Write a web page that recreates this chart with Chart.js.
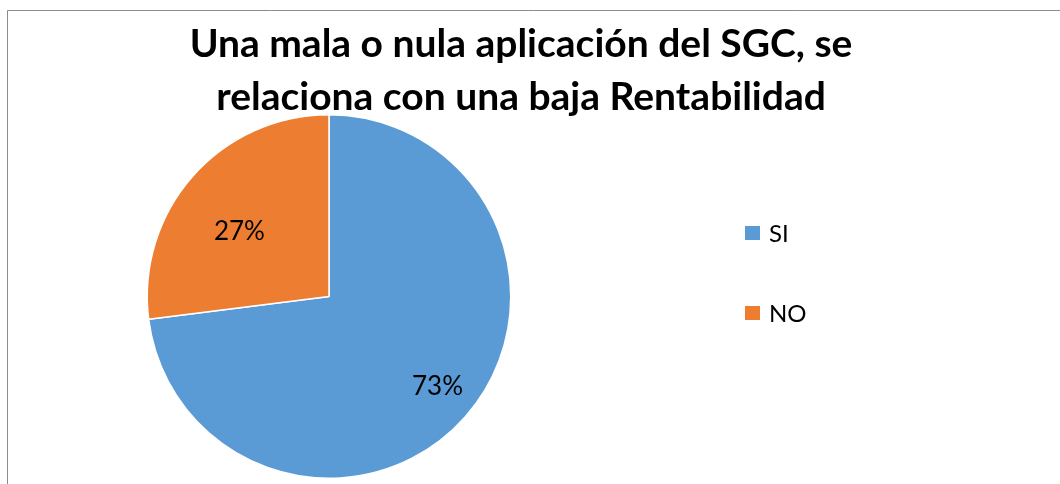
<!DOCTYPE html>
<html>
<head>
<meta charset="utf-8">
<script src="https://cdn.jsdelivr.net/npm/chart.js@4"></script>
<style>
  html, body { margin: 0; padding: 0; background: #fff; }
  #wrap { width: 1060px; height: 484px; position: relative; }
</style>
</head>
<body>
<div id="wrap"><canvas id="grafico"></canvas></div>
<script>
// --- datos del grafico ---
const categorias = ['SI', 'NO'];
const porcentajes = [73, 27];
const colores = ['#5B9BD5', '#ED7D31'];
const tituloLineas = ['Una mala o nula aplicación del SGC, se', 'relaciona con una baja Rentabilidad'];

const FUENTE = 'Lato, "Open Sans", sans-serif';

// marco gris, titulo, etiquetas y leyenda dibujados sobre el canvas
const extras = {
    id: 'extras',
    beforeDraw(chart) {
        const c = chart.ctx;
        c.save();
        c.strokeStyle = '#8c8c8c';
        c.lineWidth = 1;
        c.beginPath();
        c.moveTo(7.5, chart.height);
        c.lineTo(7.5, 10.5);
        c.lineTo(chart.width, 10.5);
        c.stroke();
        c.restore();
    },
    afterDraw(chart) {
        const c = chart.ctx;
        c.save();

        // titulo
        c.fillStyle = '#000';
        c.textAlign = 'center';
        c.textBaseline = 'alphabetic';
        c.font = 'bold 39px ' + FUENTE;
        tituloLineas.forEach((t, i) => c.fillText(t, 521, 57 + i * 53));

        // porcentajes dentro de cada porcion (posicion tipo "mejor ajuste")
        const factores = [0.775, 0.61];
        const giro = [-1.8, -5.3];
        const arcos = chart.getDatasetMeta(0).data;
        c.font = '26px ' + FUENTE;
        c.textBaseline = 'middle';
        arcos.forEach((arco, i) => {
            const p = arco.getProps(['x', 'y', 'startAngle', 'endAngle', 'outerRadius'], true);
            const medio = (p.startAngle + p.endAngle) / 2 + giro[i] * Math.PI / 180;
            const d = p.outerRadius * factores[i];
            c.fillText(porcentajes[i] + '%', p.x + Math.cos(medio) * d, p.y + Math.sin(medio) * d);
        });

        // leyenda a la derecha
        c.textAlign = 'left';
        c.font = '24px ' + FUENTE;
        categorias.forEach((cat, i) => {
            const y = 233 + i * 80;
            c.fillStyle = colores[i];
            c.fillRect(745, y - 7, 15, 14);
            c.fillStyle = '#000';
            c.fillText(cat, 769, y + 1);
        });
        c.restore();
    }
};

new Chart(document.getElementById('grafico'), {
    type: 'pie',
    data: {
        labels: categorias,
        datasets: [{
            data: porcentajes,
            backgroundColor: colores,
            borderColor: '#ffffff',
            borderWidth: 1.5
        }]
    },
    options: {
        responsive: true,
        maintainAspectRatio: false,
        animation: false,
        layout: { padding: { left: 8, right: 410, top: 114, bottom: 5 } },
        plugins: {
            legend: { display: false },
            title: { display: false },
            tooltip: { enabled: false }
        }
    },
    plugins: [extras]
});
</script>
</body>
</html>
